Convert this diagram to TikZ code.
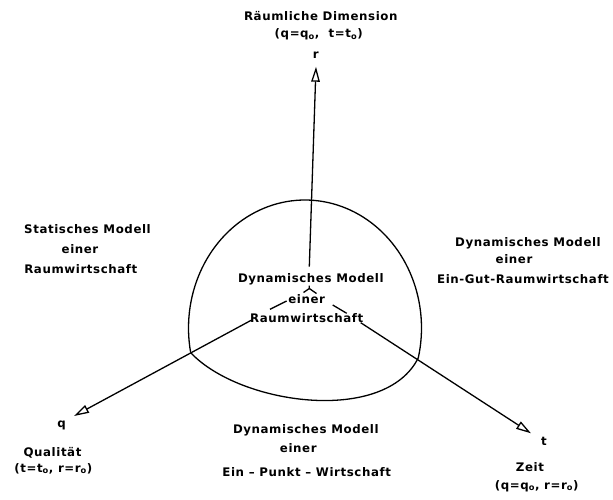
\documentclass[tikz,border=0pt]{standalone}
\usepackage{fontspec}
\setmainfont{DejaVu Sans}[LetterSpace=5]
\usetikzlibrary{arrows.meta}
\begin{document}
\begin{tikzpicture}[x=1pt,y=-1pt,
  lbl/.style={font=\bfseries\fontsize{11.8}{14}\selectfont, inner sep=0pt, anchor=base},
  axis/.style={line width=1.3pt, -{Triangle[open,length=15pt,width=8.5pt,line width=1.3pt]}},
  curve/.style={line width=1.3pt},
  tick/.style={line width=1.3pt}]
\useasboundingbox (0,0) rectangle (613,500);
% key points
\coordinate (O) at (309.3,288.5);
\coordinate (Ltop) at (309.3,266.7);
\coordinate (Lq) at (251.7,320);
\coordinate (Lt) at (360.7,322.7);
\coordinate (tipr) at (316,66.7);
\coordinate (tipq) at (74,416);
\coordinate (tipt) at (531,433.3);
\coordinate (L) at (190.7,352.7);
\coordinate (R) at (418.3,357.8);
% dome
\draw[curve] plot[domain=-13.46:191.1, samples=90] ({305+116.5*cos(\x)},{328-128*sin(\x)});
\draw[curve] (L) .. controls (240,405) and (385,425) .. (R);
% axes
\draw[axis] (Ltop) -- (tipr);
\draw[axis] (Lq) -- (tipq);
\draw[axis] (Lt) -- (tipt);
% small marks near origin
\coordinate (stem) at (309.3,285.5);
\coordinate (fl) at (303.5,292.5);
\coordinate (fr) at (316.5,293.5);
\coordinate (dl1) at (286.7,301);
\coordinate (dl2) at (270,309.3);
\coordinate (dr1) at (332.7,305);
\coordinate (dr2) at (346.7,313.3);
\draw[tick] (stem) -- (O) -- (fl);
\draw[tick] (O) -- (fr);
\draw[tick] (dl1) -- (dl2);
\draw[tick] (dr1) -- (dr2);
% top labels
\node[lbl] (t1) at (320.8,20.7) {Räumliche Dimension};
\node[lbl] (t2) at (318.7,38) {(q=q\textsubscript{o},\ \ t=t\textsubscript{o})};
\node[lbl] (t3) at (315.7,58.3) {r};
% center
\node[lbl] (c1) at (310.8,282) {Dynamisches Modell};
\node[lbl] (c2) at (306.7,303.3) {einer};
\node[lbl] (c3) at (306.7,322) {Raumwirtschaft};
% left
\node[lbl] (l1) at (87.5,233.3) {Statisches Modell};
\node[lbl] (l2) at (80,253.3) {einer};
\node[lbl] (l3) at (80.8,273.3) {Raumwirtschaft};
% right
\node[lbl] (r1) at (528,246.7) {Dynamisches Modell};
\node[lbl] (r2) at (514,263.3) {einer};
\node[lbl] (r3) at (523,283.3) {Ein-Gut-Raumwirtschaft};
% bottom center
\node[lbl] (b1) at (305.8,433) {Dynamisches Modell};
\node[lbl] (b2) at (298.3,452.7) {einer};
\node[lbl] (b3) at (306.7,476.5) {Ein – Punkt – Wirtschaft};
% bottom left
\node[lbl] (q1) at (61.7,427) {q};
\node[lbl] (q2) at (52.5,456.7) {Qualität};
\node[lbl] (q3) at (53.3,472) {(t=t\textsubscript{o}, r=r\textsubscript{o})};
% bottom right
\node[lbl] (z1) at (544,445) {t};
\node[lbl] (z2) at (530,471.7) {Zeit};
\node[lbl] (z3) at (536.7,489) {(q=q\textsubscript{o}, r=r\textsubscript{o})};
\end{tikzpicture}
\end{document}
